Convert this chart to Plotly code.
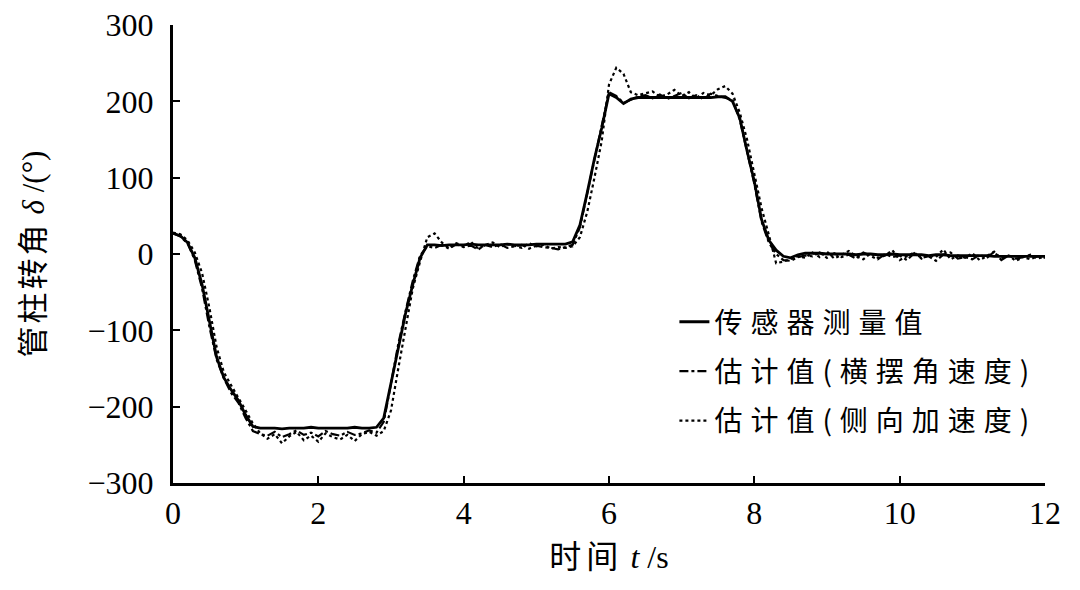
import numpy as np
import plotly.graph_objects as go

# sample grid, 0.1 s step from 0 to 12 s
time_s = np.round(np.linspace(0, 12, 121), 1)

# 传感器测量值
sensor = [
    27, 24, 15, -5, -40, -90, -135, -162, -178, -192, -211, -226, -228,
    -228, -228, -229, -228, -228, -228, -227, -228, -228, -228, -228, -228, -227, -228, -228, -227,
    -215, -168, -120, -78, -40, -5, 12,
    12, 11, 12, 12, 12, 13, 12, 12, 12, 12, 13, 12, 12, 12, 13, 13, 13, 13, 13,
    16, 38, 80, 125, 165, 210, 205, 197, 203, 205,
    205, 205, 205, 205, 205, 205, 205, 205, 205, 205, 206, 206,
    200, 178, 135, 95, 45, 18, 5, -3, -5, -1, 1,
    1, 1, 0, 0, 0, 0, -1, 0, 0, -1, -1, 0, -1, -1, -1, -1, -2, -1, -1, -2,
    -2, -2, -2, -2, -2, -3, -3, -3, -3, -3, -3, -3, -3,
]

# 估计值(横摆角速度)
est_yaw = [
    27, 23, 14, -8, -45, -95, -138, -163, -182, -195, -215, -232, -236,
    -238, -233, -240, -236, -231, -237, -234, -239, -232, -236, -238, -233, -237, -235, -231, -234,
    -220, -170, -118, -75, -35, -2, 10,
    8, 12, 7, 13, 9, 11, 6, 12, 9, 13, 8, 10, 12, 7, 11, 9, 8, 6, 9,
    12, 35, 78, 122, 168, 212, 207, 198, 202, 206,
    208, 204, 209, 203, 207, 211, 204, 208, 203, 210, 207, 205,
    202, 176, 132, 92, 42, 15, 0, -8, -9, -4, -2,
    -3, 2, -5, 1, -4, -1, -6, 2, -3, -7, 0, -4, -2, -8, 1, -5, -3, -9, -1, 2,
    -6, -4, -7, -1, -5, 3, -8, -2, -6, -4, -7, -3, -5,
]

# 估计值(侧向加速度)
est_lat = [
    28, 26, 18, 2, -25, -70, -122, -155, -172, -188, -205, -222, -235,
    -242, -236, -248, -239, -233, -244, -238, -246, -235, -240, -243, -237, -245, -236, -233, -238,
    -232, -205, -150, -95, -45, -10, 22,
    27, 15, 8, 14, 10, 16, 7, 12, 15, 9, 13, 11, 8, 14, 10, 12, 7, 9, 8,
    10, 22, 55, 100, 148, 222, 244, 236, 212, 208,
    210, 213, 206, 209, 215, 207, 212, 204, 211, 208, 216, 220,
    210, 185, 150, 105, 60, 25, -12, -10, -7, -3, -5,
    2, -4, 3, -6, -1, 4, -3, -7, 1, -5, -2, 5, -8, -3, 2, -6, -1, -4, 6, -7,
    -2, -5, 1, -8, -3, 3, -6, -2, -9, -4, -1, -6, -3,
]

series_names = ["传感器测量值", "估计值(横摆角速度)", "估计值(侧向加速度)"]

x_ticks = [0, 2, 4, 6, 8, 10, 12]
y_ticks = [-300, -200, -100, 0, 100, 200, 300]

serif = "Liberation Serif, Times New Roman, DejaVu Serif, serif"
cjk = "Noto Sans CJK SC"


def spaced(text, px=8):
    # wider character spacing like the printed figure
    return f"<span style='letter-spacing:{px}px'>{text}</span>"


fig = go.Figure()
fig.add_trace(go.Scatter(x=time_s, y=sensor, mode="lines", name=spaced(series_names[0]),
                         legendgroup="a", line=dict(color="black", width=2.8)))
fig.add_trace(go.Scatter(x=time_s, y=est_yaw, mode="lines", name=spaced(series_names[1]),
                         legendgroup="b", line=dict(color="black", width=2.2, dash="dashdot")))
fig.add_trace(go.Scatter(x=time_s, y=est_lat, mode="lines", name=spaced(series_names[2]),
                         legendgroup="c", line=dict(color="black", width=2.2, dash="dot")))

fig.update_layout(
    width=1080, height=590,
    margin=dict(l=165, r=43, t=17, b=115),
    plot_bgcolor="white", paper_bgcolor="white",
    font=dict(family=serif, color="black", size=30),
    legend=dict(x=0.575, y=0.406, xanchor="left", yanchor="top",
                bgcolor="rgba(0,0,0,0)", tracegroupgap=10,
                font=dict(family=cjk, size=28, color="black")),
)
fig.update_xaxes(
    range=[0, 12], tickvals=x_ticks, showgrid=False, zeroline=False,
    showline=True, linecolor="black", linewidth=3,
    ticks="inside", ticklen=7, tickwidth=2, tickcolor="black",
    tickfont=dict(family=serif, size=32), ticklabelstandoff=0, ticklabeloverflow="allow",
    automargin=False,
    title=dict(text=spaced("时间", 5) + " <span style='font-family:Liberation Serif'><i>t</i> /s</span>",
               font=dict(family=cjk, size=32), standoff=16),
)
fig.update_yaxes(
    range=[-300, 300], tickvals=y_ticks, showgrid=False, zeroline=False,
    showline=True, linecolor="black", linewidth=3,
    ticks="inside", ticklen=7, tickwidth=2, tickcolor="black",
    tickfont=dict(family=serif, size=32), ticklabelstandoff=10, ticklabeloverflow="allow",
    automargin=False,
    title=dict(text=spaced("管柱转角", 3) + " <span style='font-family:Liberation Serif'><i>δ</i> /(°)</span>",
               font=dict(family=cjk, size=31), standoff=36),
)

fig.write_html("out.html")
